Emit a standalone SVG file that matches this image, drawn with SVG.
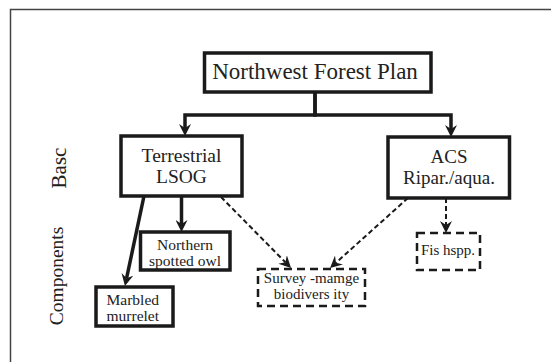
<svg xmlns="http://www.w3.org/2000/svg" width="551" height="362" viewBox="0 0 551 362" font-family="'Liberation Serif', 'DejaVu Serif', serif">
<style>
text{font-family:'Liberation Serif','DejaVu Serif',serif;fill:#222}
.t{text-anchor:middle}
.box{fill:#fff;stroke:#1a1a1a;stroke-width:3.5}
.dbox{fill:#fff;stroke:#1a1a1a;stroke-width:2.5;stroke-dasharray:8 5}
.solid{fill:none;stroke:#1a1a1a;stroke-width:3.5;stroke-linejoin:miter}
.dash{fill:none;stroke:#1a1a1a;stroke-width:2;stroke-dasharray:5 3}
.frame{fill:none;stroke:#444;stroke-width:1.5}
</style>
<defs>
<marker id="ah" viewBox="0 0 12 12" refX="4" refY="6" markerWidth="12" markerHeight="12" markerUnits="userSpaceOnUse" orient="auto">
<path d="M0,0 L12,6 L0,12 L4,6 z" fill="#1a1a1a"/>
</marker>
</defs>
<rect width="551" height="362" fill="#fff"/>
<path class="frame" d="M10.5,362 V9.5 H551"/>
<text transform="translate(66,168) rotate(-90)" class="t" font-size="21">Basc</text>
<text transform="translate(63,276) rotate(-90)" class="t" font-size="19.5">Components</text>
<g id="connectors">
<path class="solid" d="M315,92 V115 H185 V128" marker-end="url(#ah)"/>
<path class="solid" d="M315,92 V115 H451 V129" marker-end="url(#ah)"/>
<path class="solid" d="M144,196 L126.6,278.2" marker-end="url(#ah)"/>
<path class="solid" d="M181.5,196 V224" marker-end="url(#ah)"/>
<path class="dash" d="M221,197 L285.4,262.3" marker-end="url(#ah)"/>
<path class="dash" d="M408,198 L336,262.7" marker-end="url(#ah)"/>
<path class="dash" d="M446,198 V225" marker-end="url(#ah)"/>
</g>
<g id="nfp">
<rect class="box" x="204.5" y="53" width="226.5" height="39"/>
<text class="t" x="315" y="79" font-size="23">Northwest Forest Plan</text>
</g>
<g id="terrestrial">
<rect class="box" x="121" y="136" width="121" height="60"/>
<text class="t" x="181.5" y="162" font-size="19.5">Terrestrial</text>
<text class="t" x="181.5" y="183" font-size="19.5">LSOG</text>
</g>
<g id="acs">
<rect class="box" x="388" y="137" width="121.5" height="61"/>
<text class="t" x="449" y="163" font-size="19">ACS</text>
<text class="t" x="449" y="184" font-size="19">Ripar./aqua.</text>
</g>
<g id="owl">
<rect class="box" x="140.5" y="232" width="89.5" height="38"/>
<text class="t" x="185" y="250" font-size="15.5">Northern</text>
<text class="t" x="185" y="266" font-size="15.5">spotted owl</text>
</g>
<g id="murrelet">
<rect class="box" x="96" y="287" width="77" height="39"/>
<text x="106.5" y="305" font-size="15.5">Marbled</text>
<text x="106.5" y="321" font-size="15.5">murrelet</text>
</g>
<g id="survey">
<rect class="dbox" x="258" y="269" width="107" height="37"/>
<text class="t" x="311.5" y="283" font-size="15">Survey -mamge</text>
<text class="t" x="311.5" y="299" font-size="15">biodivers ity</text>
</g>
<g id="fish">
<rect class="dbox" x="417" y="233" width="63" height="37"/>
<text class="t" x="448" y="255" font-size="15">Fis hspp.</text>
</g>
</svg>
